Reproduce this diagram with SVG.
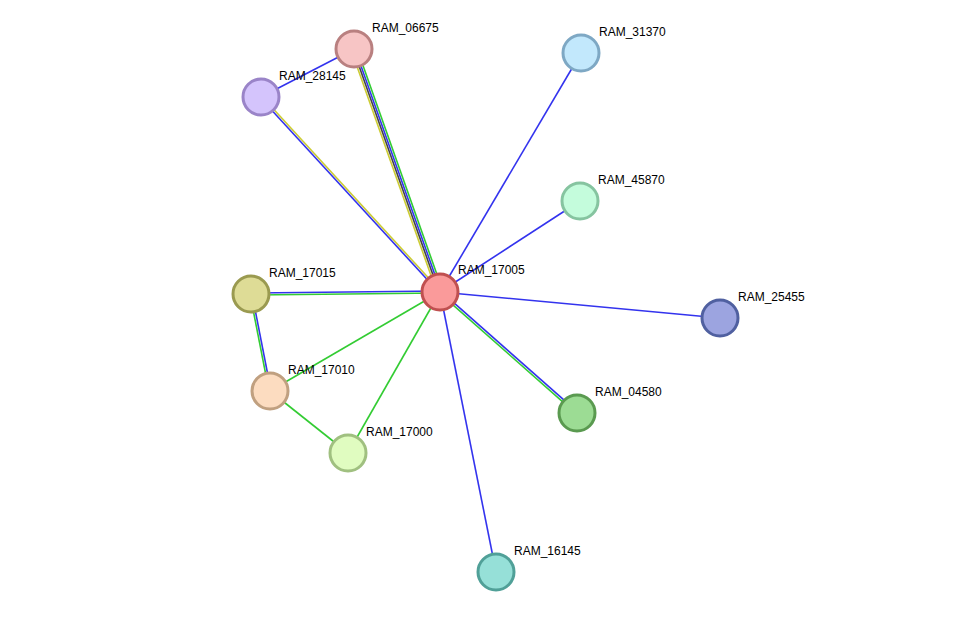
<svg xmlns="http://www.w3.org/2000/svg" width="975" height="618" viewBox="0 0 975 618">
<style>
.e{stroke-width:1.6;fill:none}
.b{stroke:#3333ee}.g{stroke:#33cc33}.y{stroke:#cccc33}.k{stroke:#444444}
circle{stroke-width:3}
text{font-family:"Liberation Sans",Arial,sans-serif;font-size:12px;fill:#000}
</style>
<rect width="975" height="618" fill="#fff"/>
<g id="edges" class="edges">
<line class="e y" x1="351.2" y1="50" x2="437.2" y2="293"/>
<line class="e k" x1="353.1" y1="49.3" x2="439.1" y2="292.3"/>
<line class="e b" x1="354.9" y1="48.7" x2="440.9" y2="291.7"/>
<line class="e g" x1="356.8" y1="48" x2="442.8" y2="291"/>
<line class="e y" x1="261.7" y1="96.3" x2="440.7" y2="291.3"/>
<line class="e b" x1="260.3" y1="97.7" x2="439.3" y2="292.7"/>
<line class="e b" x1="261" y1="97" x2="354" y2="49"/>
<line class="e b" x1="440" y1="292" x2="581" y2="53"/>
<line class="e b" x1="440" y1="292" x2="580" y2="201"/>
<line class="e b" x1="440" y1="292" x2="720" y2="318"/>
<line class="e b" x1="440" y1="292" x2="496" y2="572"/>
<line class="e b" x1="251" y1="293" x2="440" y2="291"/>
<line class="e g" x1="251" y1="295" x2="440" y2="293"/>
<line class="e b" x1="252" y1="294" x2="271" y2="391"/>
<line class="e g" x1="250" y1="294" x2="269" y2="391"/>
<line class="e b" x1="440.7" y1="291.2" x2="577.7" y2="412.2"/>
<line class="e g" x1="439.3" y1="292.8" x2="576.3" y2="413.8"/>
<line class="e g" x1="440" y1="292" x2="270" y2="391"/>
<line class="e g" x1="440" y1="292" x2="348" y2="453"/>
<line class="e g" x1="270" y1="391" x2="348" y2="453"/>
</g>
<g id="RAM_17005"><circle cx="440" cy="292" r="18" fill="#fa9a9a" stroke="#c05050"/><text x="458" y="274">RAM_17005</text></g>
<g id="RAM_06675"><circle cx="354" cy="49" r="18" fill="#f7c5c5" stroke="#b98080"/><text x="372" y="32">RAM_06675</text></g>
<g id="RAM_28145"><circle cx="261" cy="97" r="18" fill="#d4c4fc" stroke="#9a84c8"/><text x="279" y="80">RAM_28145</text></g>
<g id="RAM_31370"><circle cx="581" cy="53" r="18" fill="#c2e8fc" stroke="#7ea8c4"/><text x="599" y="36">RAM_31370</text></g>
<g id="RAM_45870"><circle cx="580" cy="201" r="18" fill="#c4fcdc" stroke="#86c4a0"/><text x="598" y="184">RAM_45870</text></g>
<g id="RAM_17015"><circle cx="251" cy="294" r="18" fill="#dedc96" stroke="#9a9a50"/><text x="269" y="277">RAM_17015</text></g>
<g id="RAM_25455"><circle cx="720" cy="318" r="18" fill="#9ca4e0" stroke="#5060a0"/><text x="738" y="301">RAM_25455</text></g>
<g id="RAM_17010"><circle cx="270" cy="391" r="18" fill="#fcdcc0" stroke="#c0a080"/><text x="288" y="374">RAM_17010</text></g>
<g id="RAM_04580"><circle cx="577" cy="413" r="18" fill="#9cdc94" stroke="#5a9a50"/><text x="595" y="396">RAM_04580</text></g>
<g id="RAM_17000"><circle cx="348" cy="453" r="18" fill="#e0fcc0" stroke="#a0c080"/><text x="366" y="436">RAM_17000</text></g>
<g id="RAM_16145"><circle cx="496" cy="572" r="18" fill="#96e0d8" stroke="#50a098"/><text x="514" y="555">RAM_16145</text></g>
</svg>
